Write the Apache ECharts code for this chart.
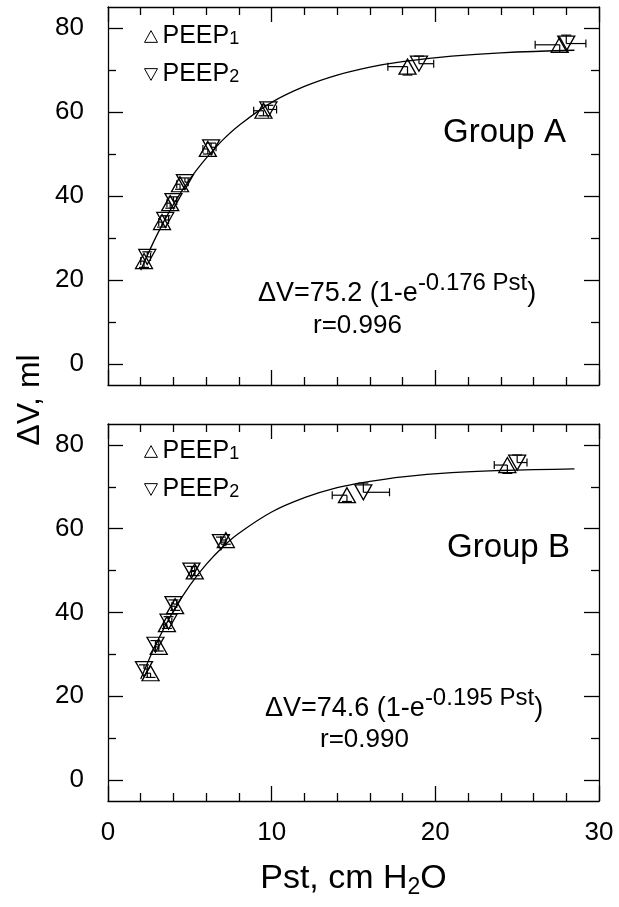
<!DOCTYPE html>
<html>
<head>
<meta charset="utf-8">
<script src="https://cdn.jsdelivr.net/npm/echarts@6/dist/echarts.min.js"></script>
<style>
  html, body { margin: 0; padding: 0; background: #fff; }
  #chart { width: 619px; height: 907px; }
</style>
</head>
<body>
<div id="chart"></div>
<script>
// Group A: [Pst, dV, xerr, yerr]
var peep1A = [[2.2, 24.5, 0.2, 1.5], [3.3, 33.8, 0.2, 1.2], [3.8, 38.3, 0.2, 1.2], [4.4, 42.8, 0.2, 1.2],
  [6.1, 51.2, 0.3, 1.2], [9.5, 60.3, 0.6, 1.2], [18.3, 70.8, 1.2, 2.0], [27.6, 76.0, 1.5, 1.8]]
var peep2A = [[2.4, 25.5, 0.2, 1.2], [3.5, 34.3, 0.2, 1.0], [4.0, 38.8, 0.2, 1.0], [4.7, 43.3, 0.2, 1.0],
  [6.3, 51.6, 0.3, 1.0], [9.8, 60.6, 0.5, 1.0], [19.0, 71.5, 0.9, 1.8], [28.0, 76.3, 1.2, 2.0]]
// Group B
var peep1B = [[2.6, 25.5, 0.2, 1.0], [3.1, 31.8, 0.2, 1.0], [3.6, 37.2, 0.2, 1.0], [4.1, 41.5, 0.2, 1.0],
  [5.3, 49.8, 0.2, 1.0], [7.2, 57.3, 0.3, 1.0], [14.6, 68.0, 0.9, 1.5], [24.4, 75.2, 0.8, 2.0]]
var peep2B = [[2.2, 26.5, 0.2, 1.0], [2.9, 32.3, 0.2, 1.0], [3.7, 37.8, 0.2, 1.2], [4.0, 42.0, 0.2, 1.0],
  [5.1, 50.0, 0.2, 1.0], [6.9, 56.8, 0.3, 1.2], [15.6, 68.7, 1.6, 2.2], [25.0, 75.8, 0.6, 1.8]]

// fitted curves
var curveX = [2, 3, 4, 5, 6, 7, 8, 10, 12, 14, 16, 18, 21, 24, 28.5]
var curveA = [22.3, 30.8, 38.0, 44.0, 49.0, 53.3, 56.8, 62.3, 66.1, 68.8, 70.7, 72.0, 73.3, 74.1, 74.7]
var curveB = [24.1, 33.0, 40.4, 46.5, 51.5, 55.6, 58.9, 64.0, 67.4, 69.8, 71.3, 72.4, 73.4, 73.9, 74.3]

var yTicks = [0, 20, 40, 60, 80]
var yMinor = [10, 30, 50, 70]

var FONT = 'Liberation Sans, Arial, sans-serif'
var chart = echarts.init(document.getElementById('chart'))

function pairs (xs, ys) {
  return xs.map(function (x, i) { return [x, ys[i]] })
}

// one-sided error bars: side -1 -> left/down, +1 -> right/up
function errSeries (data, idx, side) {
  return {
    type: 'custom',
    xAxisIndex: idx,
    yAxisIndex: idx,
    z: 1,
    data: data,
    renderItem: function (params, api) {
      var x = api.value(0), y = api.value(1), ex = api.value(2), ey = api.value(3)
      var c = api.coord([x, y])
      var h = api.coord([x + side * ex, y])
      var v = api.coord([x, y + side * ey])
      var cap = 4
      var st = { stroke: '#000', lineWidth: 1.2 }
      return {
        type: 'group',
        children: [
          { type: 'line', shape: { x1: c[0], y1: c[1], x2: h[0], y2: h[1] }, style: st },
          { type: 'line', shape: { x1: h[0], y1: h[1] - cap, x2: h[0], y2: h[1] + cap }, style: st },
          { type: 'line', shape: { x1: c[0], y1: c[1], x2: v[0], y2: v[1] }, style: st },
          { type: 'line', shape: { x1: v[0] - cap - 1, y1: v[1], x2: v[0] + cap + 1, y2: v[1] }, style: st }
        ]
      }
    }
  }
}

function pointSeries (name, data, idx, down) {
  return {
    name: name,
    type: 'scatter',
    xAxisIndex: idx,
    yAxisIndex: idx,
    z: 3,
    symbol: 'triangle',
    symbolSize: [17, 15],
    symbolRotate: down ? 180 : 0,
    itemStyle: { color: 'rgba(255,255,255,0)', borderColor: '#000', borderWidth: 1.3, opacity: 1 },
    data: data.map(function (d) { return [d[0], d[1]] })
  }
}

function curveSeries (ys, idx) {
  return {
    type: 'line',
    xAxisIndex: idx,
    yAxisIndex: idx,
    smooth: 0.4,
    showSymbol: false,
    z: 2,
    lineStyle: { color: '#000', width: 1.3 },
    data: pairs(curveX, ys)
  }
}

var black = { color: '#000', width: 1.3 }

function xAxis (grid, pos, labels) {
  return {
    type: 'value', gridIndex: grid, position: pos, min: 0, max: 30, interval: 10,
    axisLine: { show: true, onZero: false, lineStyle: black },
    axisTick: { show: true, inside: true, length: 15, lineStyle: black },
    minorTick: { show: true, splitNumber: 5, length: 8, lineStyle: black },
    splitLine: { show: false },
    axisLabel: { show: labels, color: '#000', fontSize: 26, fontFamily: FONT, margin: 19 },
    name: labels ? '{a|Pst, cm H}{s|2}{a|O}' : '',
    nameLocation: 'middle',
    nameGap: 58,
    nameTextStyle: {
      rich: {
        a: { fontSize: 34, fontFamily: FONT, color: '#000', lineHeight: 40 },
        s: { fontSize: 23, fontFamily: FONT, color: '#000', lineHeight: 40, padding: [18, 0, 0, 0] }
      }
    }
  }
}

function yAxis (grid, pos, labels) {
  return {
    type: 'value', gridIndex: grid, position: pos, min: -5, max: 85,
    axisLine: { show: true, onZero: false, lineStyle: black },
    axisTick: { show: true, inside: true, length: 15, customValues: yTicks, lineStyle: black },
    splitLine: { show: false },
    axisLabel: {
      show: labels, color: '#000', fontSize: 26, fontFamily: FONT, margin: 24,
      customValues: yTicks
    }
  }
}

// minor y ticks; both placed as right-side axes, the left one shifted onto the left edge
function yMinorAxis (grid, leftEdge) {
  return {
    type: 'value', gridIndex: grid, position: 'right', min: -5, max: 85,
    offset: leftEdge ? -491 : 0,
    axisLine: { show: false, onZero: false },
    axisTick: { show: true, inside: !leftEdge, length: 8, customValues: yMinor, lineStyle: black },
    axisLabel: { show: false, customValues: yMinor },
    splitLine: { show: false }
  }
}

function legend (top) {
  return {
    orient: 'vertical',
    left: 139,
    top: top,
    itemGap: 13,
    itemWidth: 13,
    itemHeight: 12,
    selectedMode: false,
    textStyle: {
      fontSize: 25, fontFamily: FONT, color: '#000',
      rich: {
        a: { fontSize: 25, fontFamily: FONT, color: '#000', lineHeight: 28 },
        s: { fontSize: 18, fontFamily: FONT, color: '#000', lineHeight: 28, padding: [6, 0, 0, 0] }
      }
    },
    formatter: function (n) { return '{a|PEEP}{s|' + n.slice(4) + '}' },
    data: [
      { name: 'PEEP1', icon: 'path://M5,0L10,9L0,9Z', itemStyle: { color: 'rgba(255,255,255,0)', borderColor: '#000', borderWidth: 1 } },
      { name: 'PEEP2', icon: 'path://M0,0L10,0L5,9Z', itemStyle: { color: 'rgba(255,255,255,0)', borderColor: '#000', borderWidth: 1 } }
    ]
  }
}

function eqText (left, top, a, k) {
  return {
    type: 'text', left: left, top: top,
    style: {
      text: '{m|\u0394V=' + a + ' (1-e}{p|-' + k + ' Pst}{m|)}',
      rich: {
        m: { fontSize: 27, fontFamily: FONT, fill: '#000', lineHeight: 36, verticalAlign: 'bottom' },
        p: { fontSize: 24, fontFamily: FONT, fill: '#000', lineHeight: 22, verticalAlign: 'top' }
      }
    }
  }
}

function plainText (left, top, s, size) {
  return { type: 'text', left: left, top: top, style: { text: s, fontSize: size, fontFamily: FONT, fill: '#000' } }
}

var option = {
  backgroundColor: '#fff',
  animation: false,
  grid: [
    { left: 108, top: 7, width: 491, height: 378 },
    { left: 108, top: 424, width: 491, height: 377 }
  ],
  legend: [legend(19), legend(434)],
  xAxis: [
    xAxis(0, 'bottom', false), xAxis(1, 'bottom', true),
    xAxis(0, 'top', false), xAxis(1, 'top', false)
  ],
  yAxis: [
    yAxis(0, 'left', true), yAxis(1, 'left', true),
    yAxis(0, 'right', false), yAxis(1, 'right', false),
    yMinorAxis(0, true), yMinorAxis(1, true),
    yMinorAxis(0, false), yMinorAxis(1, false)
  ],
  graphic: [
    { type: 'text', x: 30, y: 400, rotation: Math.PI / 2,
      style: { text: '\u0394V, ml', fontSize: 32, fontFamily: FONT, fill: '#000', align: 'center', verticalAlign: 'middle' } },
    plainText(443, 116, 'Group A', 33),
    eqText(258, 271, '75.2', '0.176'),
    plainText(313, 313, 'r=0.996', 26),
    plainText(447, 531, 'Group B', 33),
    eqText(265, 686, '74.6', '0.195'),
    plainText(320, 727, 'r=0.990', 26)
  ],
  series: [
    curveSeries(curveA, 0),
    curveSeries(curveB, 1),
    errSeries(peep1A, 0, -1),
    errSeries(peep2A, 0, 1),
    errSeries(peep1B, 1, -1),
    errSeries(peep2B, 1, 1),
    pointSeries('PEEP1', peep1A, 0, false),
    pointSeries('PEEP2', peep2A, 0, true),
    pointSeries('PEEP1', peep1B, 1, false),
    pointSeries('PEEP2', peep2B, 1, true)
  ]
}

chart.setOption(option)
</script>
</body>
</html>
